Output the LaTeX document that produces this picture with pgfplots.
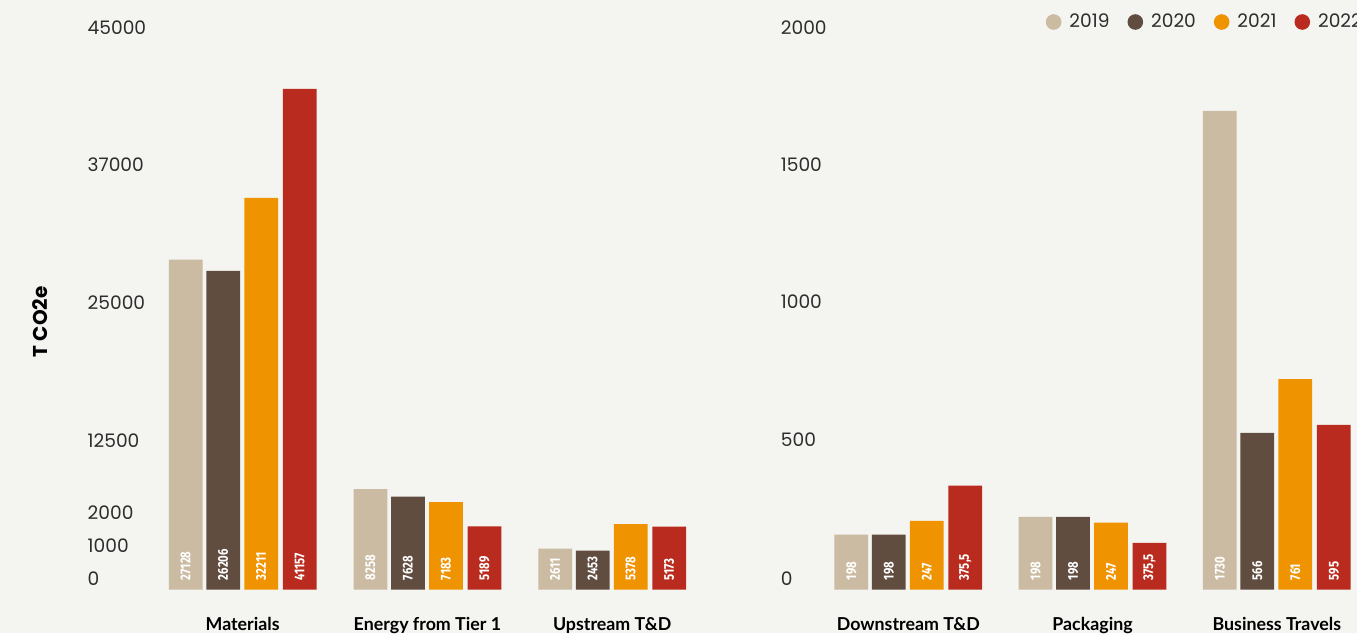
\documentclass[border=0pt]{standalone}
\usepackage{pgfplots}
\pgfplotsset{compat=1.18}
\usepackage{pgfplotstable}
\usepackage{fontspec}
\setmainfont{Poppins}
\newfontfamily\catfont{Lato}
\newfontfamily\barfont{Fira Sans}[FakeStretch=0.8]

\definecolor{bg}{RGB}{244,244,240}
\definecolor{c19}{RGB}{203,187,162}
\definecolor{c20}{RGB}{96,77,64}
\definecolor{c21}{RGB}{240,147,0}
\definecolor{c22}{RGB}{185,43,30}
\definecolor{txt}{RGB}{45,45,45}

% heights as drawn (v..) and the printed labels (t..)
\pgfplotstableread{
x  v19   t19   v20   t20   v21   t21   v22   t22
0  27128 27128 26206 26206 32211 32211 41157 41157
1  8258  8258  7628  7628  7183  7183  5189  5189
2  3370  2611  3200  2453  5378  5378  5173  5173
}\lefttab

\pgfplotstableread{
x  v19   t19   v20   t20   v21   t21   v22   t22
0  198   198   198   198   248   247   375.5 375,5
1  263   198   263   198   241.5 247   169   375,5
2  1730  1730  566   566   761   761   595   595
}\righttab

\pgfplotsset{
  bars/.style 2 args={ybar, bar width=16.85pt, bar shift=#2, draw=none, fill=#1,
    legend image code/.code={\fill[#1] (3.9pt,0pt) circle (3.9pt);}},
  blab/.style={draw=none, mark=none, forget plot,
    nodes near coords, point meta=explicit symbolic,
    every node near coord/.style={rotate=90, anchor=west, inner xsep=4.5pt, inner ysep=0pt,
      text=white, font=\barfont\bfseries\fontsize{7.1}{8}\selectfont}},
  base/.style={scale only axis, height=285pt, anchor=south west,
    xmin=-0.5, xmax=2.5, ymin=0, clip=false,
    axis line style={draw=none}, tick style={draw=none}, major tick length=0pt,
    xtick={0,1,2},
    xticklabel style={font=\catfont\bfseries\fontsize{8.9}{10}\selectfont, text=black,
      anchor=base, inner sep=0pt, yshift=-20.5pt},
    yticklabel style={anchor=west, inner sep=0pt, text=txt,
      font=\fontsize{9.3}{11}\selectfont},
    scaled y ticks=false},
}

\begin{document}
\begin{tikzpicture}
\useasboundingbox (0,0) rectangle (678.5pt,316.5pt);
\fill[bg] (0,0) rectangle (678.5pt,316.5pt);

\begin{axis}[base, at={(75.15pt,21.75pt)}, width=277.125pt, ymax=46871,
  xticklabels={Materials, Energy from Tier 1, Upstream T\&D},
  ytick={868,3603,6290,12261,23548,34896,46230},
  yticklabels={0,1000,2000,12500,25000,37000,45000},
  yticklabel style={xshift=-31.5pt},
  ylabel={T CO2e},
  ylabel style={at={(axis description cs:-0.199,0.4698)}, anchor=center,
    font=\bfseries\fontsize{10}{12}\selectfont, text=black},
]
\addplot[bars={c19}{-28.5pt}] table[x=x, y=v19] {\lefttab};
\addplot[bars={c20}{-9.75pt}] table[x=x, y=v20] {\lefttab};
\addplot[bars={c21}{9.25pt}] table[x=x, y=v21] {\lefttab};
\addplot[bars={c22}{28.5pt}] table[x=x, y=v22] {\lefttab};
\addplot[blab] table[x expr=\thisrow{x}-0.3085, y expr=0, meta=t19] {\lefttab};
\addplot[blab] table[x expr=\thisrow{x}-0.1055, y expr=0, meta=t20] {\lefttab};
\addplot[blab] table[x expr=\thisrow{x}+0.1001, y expr=0, meta=t21] {\lefttab};
\addplot[blab] table[x expr=\thisrow{x}+0.3085, y expr=0, meta=t22] {\lefttab};
\end{axis}

\begin{axis}[base, at={(408.1pt,21.75pt)}, width=276.375pt, ymax=2060.8,
  xticklabels={Downstream T\&D, Packaging, Business Travels},
  ytick={38,540.5,1039.6,1534.6,2032.7},
  yticklabels={0,500,1000,1500,2000},
  yticklabel style={xshift=-17.85pt},
  legend columns=-1,
  legend style={at={(axis description cs:0.4148,0.9956)}, anchor=west,
    draw=none, fill=none, inner sep=0pt, text=txt,
    font=\fontsize{9.3}{11}\selectfont,
    nodes={inner sep=0pt},
    /tikz/every odd column/.append style={column sep=4pt},
    /tikz/every even column/.append style={column sep=9.0pt}},
]
\addplot[bars={c19}{-28.5pt}] table[x=x, y=v19] {\righttab};
\addplot[bars={c20}{-9.75pt}] table[x=x, y=v20] {\righttab};
\addplot[bars={c21}{9.25pt}] table[x=x, y=v21] {\righttab};
\addplot[bars={c22}{28.5pt}] table[x=x, y=v22] {\righttab};
\addplot[blab] table[x expr=\thisrow{x}-0.3093, y expr=0, meta=t19] {\righttab};
\addplot[blab] table[x expr=\thisrow{x}-0.1058, y expr=0, meta=t20] {\righttab};
\addplot[blab] table[x expr=\thisrow{x}+0.1004, y expr=0, meta=t21] {\righttab};
\addplot[blab] table[x expr=\thisrow{x}+0.3093, y expr=0, meta=t22] {\righttab};
\legend{2019,2020,2021,2022}
\end{axis}
\end{tikzpicture}
\end{document}
